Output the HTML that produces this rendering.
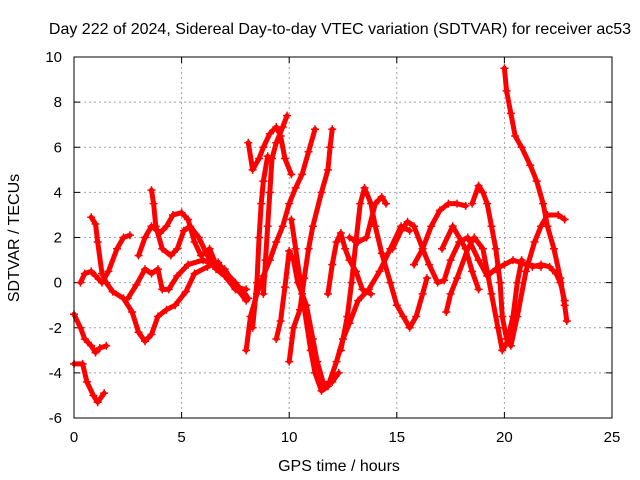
<!DOCTYPE html>
<html><head><meta charset="utf-8"><style>
body{margin:0;background:#fff}
svg{display:block;font-family:"Liberation Sans",sans-serif}
</style></head><body>
<svg id="chart" width="640" height="480" viewBox="0 0 640 480">
<rect x="0" y="0" width="640" height="480" fill="#fff"/>
<text x="340" y="34" font-size="16" text-anchor="middle">Day 222 of 2024, Sidereal Day-to-day VTEC variation (SDTVAR) for receiver ac53</text>
<text x="339" y="471" font-size="16" text-anchor="middle">GPS time / hours</text>
<text x="19" y="238" font-size="16" text-anchor="middle" transform="rotate(-90 19 238)">SDTVAR / TECUs</text>
<g id="grid"></g><g id="ticks"></g><g id="series"></g>
<rect x="74" y="57" width="538" height="361" fill="none" stroke="#000" stroke-width="1"/>
</svg>
<script>
const xTicks=[0,5,10,15,20,25];
const yTicks=[-6,-4,-2,0,2,4,6,8,10];
const arcA1=[[0,-1.4],[0.3,-2],[0.5,-2.5],[0.8,-2.8],[1.0,-3.1],[1.2,-2.9],[1.5,-2.8]];
const arcA2=[[0,-3.6],[0.4,-3.6],[0.6,-4.4],[0.9,-5],[1.1,-5.3],[1.4,-4.9]];
const arcA3=[[0.3,0],[0.5,0.4],[0.8,0.5],[1.0,0.3],[1.3,0],[1.6,0.5],[2.0,1.5],[2.3,2.0],[2.6,2.1]];
const arcA4=[[0.8,2.9],[1.0,2.6],[1.1,1.8],[1.3,0.4],[1.5,0],[1.8,-0.4],[2.3,-0.7],[2.7,-1.3],[3.0,-2.2],[3.3,-2.6],[3.6,-2.3],[3.9,-1.5],[4.3,-1.2],[4.7,-1.0],[5.2,-0.4],[5.6,0.4],[6.2,0.7],[6.7,0.9],[7.1,0.3],[7.5,-0.2],[8.0,-0.3]];
const arcA5=[[2.5,-0.7],[2.9,-0.1],[3.3,0.6],[3.6,0.4],[3.9,0.6],[4.1,-0.3],[4.4,-0.3],[4.8,0.3],[5.3,0.8],[6.0,1.0],[6.5,0.8],[7.0,0.5],[7.5,0],[7.9,-0.5],[8.1,-0.7]];
const arcA6=[[3.6,4.1],[3.7,3.5],[3.8,2.5],[4.1,1.5],[4.5,1.2],[4.8,1.5],[5.1,2.3],[5.4,2.5],[5.8,2.0],[6.2,1.2],[6.6,0.6],[7.0,0.3],[7.5,-0.3],[7.9,-0.5]];
const arcA7=[[3.0,1.2],[3.3,2.0],[3.6,2.5],[4.0,2.2],[4.3,2.5],[4.6,3.0],[5.0,3.1],[5.3,2.8],[5.6,1.8],[5.9,1.2],[6.3,1.5],[6.6,0.8],[7.0,0.6],[7.6,-0.3],[8.0,-0.8]];
const arcB1=[[8.0,-3],[8.2,-1.5],[8.5,-0.5],[8.8,0.3],[9.1,1.0],[9.4,1.8],[9.7,2.5],[10.0,3.5],[10.3,4.2],[10.6,4.8],[10.9,5.8],[11.2,6.8]];
const arcB2=[[8.1,6.2],[8.3,5.0],[8.6,5.5],[8.8,6.0],[9.1,6.6],[9.4,6.9],[9.6,6.5],[9.8,5.5],[10.1,4.8]];
const arcB3=[[8.8,-0.5],[8.9,1.0],[9.0,2.5],[9.1,4.0],[9.2,5.5],[9.4,6.2],[9.7,6.9],[9.9,7.4]];
const arcB4=[[8.3,-2.0],[8.5,0],[8.6,2.0],[8.7,3.5],[8.8,4.5],[9.0,5.6]];
const arcB5=[[10.0,-3.5],[10.2,-2],[10.5,-1.2],[10.7,0.2],[10.9,1.5],[11.1,2.5],[11.5,4.0],[11.8,5.0],[11.9,6.0],[12.0,6.8]];
const arcB6=[[9.4,-2.5],[9.6,-1.7],[9.8,-0.2],[10.0,1.4],[10.2,1.0],[10.4,0],[10.8,-1],[11.1,-2.5],[11.3,-3.5],[11.6,-4.5],[12.0,-4.4],[12.3,-4.0]];
const arcB7=[[10.1,2.8],[10.3,1.5],[10.6,-0.5],[11.0,-3.0],[11.2,-4.0],[11.5,-4.8],[11.8,-4.6],[12.2,-3.5],[12.5,-2.5],[12.8,-1.8],[13.2,-0.8],[13.7,-0.3],[14.2,0.5],[14.7,1.5],[15.2,2.5],[15.6,2.3]];
const arcB8=[[11.8,-0.5],[12.0,0.8],[12.2,1.8],[12.4,2.2],[12.6,1.5],[12.8,1.0],[13.1,0.5],[13.4,-0.3],[13.8,-0.5]];
const arcB9=[[12.4,-3],[12.7,-1.5],[12.9,0],[13.1,1.8],[13.3,3.5],[13.5,4.2],[13.8,3.5],[14.0,2.5],[14.3,1.3],[14.7,0],[15.0,-1],[15.3,-1.5],[15.6,-2.0],[15.9,-1.5],[16.2,-0.5],[16.4,0.2]];
const arcB10=[[12.8,2.0],[13.2,1.8],[13.6,2.0],[14.0,3.5],[14.3,3.8],[14.5,3.5]];
const arcC1=[[14.8,1.5],[15.2,2.3],[15.5,2.7],[15.8,2.5],[16.2,1.5],[16.5,0.8],[16.9,0],[17.2,0.1],[17.5,1.0],[17.9,1.8],[18.3,2.0],[18.8,1.0],[19.2,0.3],[19.6,0.6],[20.0,0.8],[20.4,1.0],[21.0,0.8],[21.7,0.7]];
const arcC2=[[15.8,0.8],[16.2,1.5],[16.6,2.5],[17.0,3.2],[17.4,3.5],[17.8,3.5],[18.2,3.4]];
const arcC3=[[17.1,1.5],[17.6,2.5],[18.2,1.5],[18.5,0.5],[18.8,-0.3]];
const arcC4=[[18.5,3.5],[18.8,4.3],[19.0,4.0],[19.2,3.5],[19.4,2.5],[19.6,1.5],[19.8,0],[19.9,-1.5],[20.1,-2.5],[20.3,-2.8],[20.6,-1.5],[21.0,0.5],[21.4,1.8],[21.7,2.5],[22.0,3.0],[22.5,3.0],[22.8,2.8]];
const arcC5=[[20.0,9.5],[20.1,8.5],[20.3,7.5],[20.5,6.5],[20.8,6.0],[21.2,5.2],[21.5,4.5],[21.8,3.5],[22.0,2.5],[22.3,1.5],[22.6,0.2],[22.8,-1.0],[22.9,-1.7]];
const arcC6=[[17.3,-1.3],[17.5,-0.5],[17.8,0.2],[18.3,1.5],[18.6,2.0],[19.0,1.5],[19.4,-0.5],[19.7,-2],[19.9,-3.0],[20.1,-2.7],[20.4,-1.5],[20.6,0],[20.8,1.0]];
const arcC7=[[21.3,0.7],[21.7,0.8],[22.1,0.7],[22.4,0.4],[22.6,0],[22.8,-0.8]];
const arcs=[arcA1,arcA2,arcA3,arcA4,arcA5,arcA6,arcA7,arcB1,arcB2,arcB3,arcB4,arcB5,arcB6,arcB7,arcB8,arcB9,arcB10,arcC1,arcC2,arcC3,arcC4,arcC5,arcC6,arcC7];

const NS='http://www.w3.org/2000/svg';
const X0=74,X1=612,Y0=418,Y1=57,XMIN=0,XMAX=25,YMIN=-6,YMAX=10;
function xs(v){return X0+(v-XMIN)/(XMAX-XMIN)*(X1-X0);}
function ys(v){return Y0-(v-YMIN)/(YMAX-YMIN)*(Y0-Y1);}
function mk(tag,attrs,parent){const e=document.createElementNS(NS,tag);for(const k in attrs)e.setAttribute(k,attrs[k]);parent.appendChild(e);return e;}
const grid=document.getElementById('grid'),ticks=document.getElementById('ticks'),ser=document.getElementById('series');
xTicks.forEach(t=>{
  const x=xs(t);
  if(t>XMIN&&t<XMAX){const g=mk('line',{x1:x,x2:x,y1:Y1,y2:Y0,stroke:'#a0a0a0','stroke-dasharray':'2,3'},grid);
  
  }
  const tk=mk('path',{d:`M${x},${Y0}v-6M${x},${Y1}v6`,stroke:'#000'},ticks);
  
  
  const tl=mk('text',{x:x,y:Y0+24,'font-size':15,'text-anchor':'middle'},ticks);
  tl.textContent=t;
  
  
});
yTicks.forEach(t=>{
  const y=ys(t);
  if(t>YMIN&&t<YMAX){const g=mk('line',{x1:X0,x2:X1,y1:y,y2:y,stroke:'#a0a0a0','stroke-dasharray':'2,3'},grid);
  
  }
  const tk=mk('path',{d:`M${X0},${y}h6M${X1},${y}h-6`,stroke:'#000'},ticks);
  
  
  const tl=mk('text',{x:X0-12,y:y+5,'font-size':15,'text-anchor':'end'},ticks);
  tl.textContent=t;
  
  
});
arcs.forEach((arc,i)=>{
  const pl=mk('polyline',{points:arc.map(p=>xs(p[0])+','+ys(p[1])).join(' '),fill:'none',stroke:'#ff0000','stroke-width':5,'stroke-linejoin':'round','stroke-linecap':'round'},ser);
  
  
  arc.forEach(p=>{
    const x=xs(p[0]),y=ys(p[1]);
    const m=mk('path',{d:`M${x-4},${y}h8M${x},${y-4}v8`,stroke:'#ff0000','stroke-width':1.5},ser);
    
    
  });
});
</script>
</body></html>
